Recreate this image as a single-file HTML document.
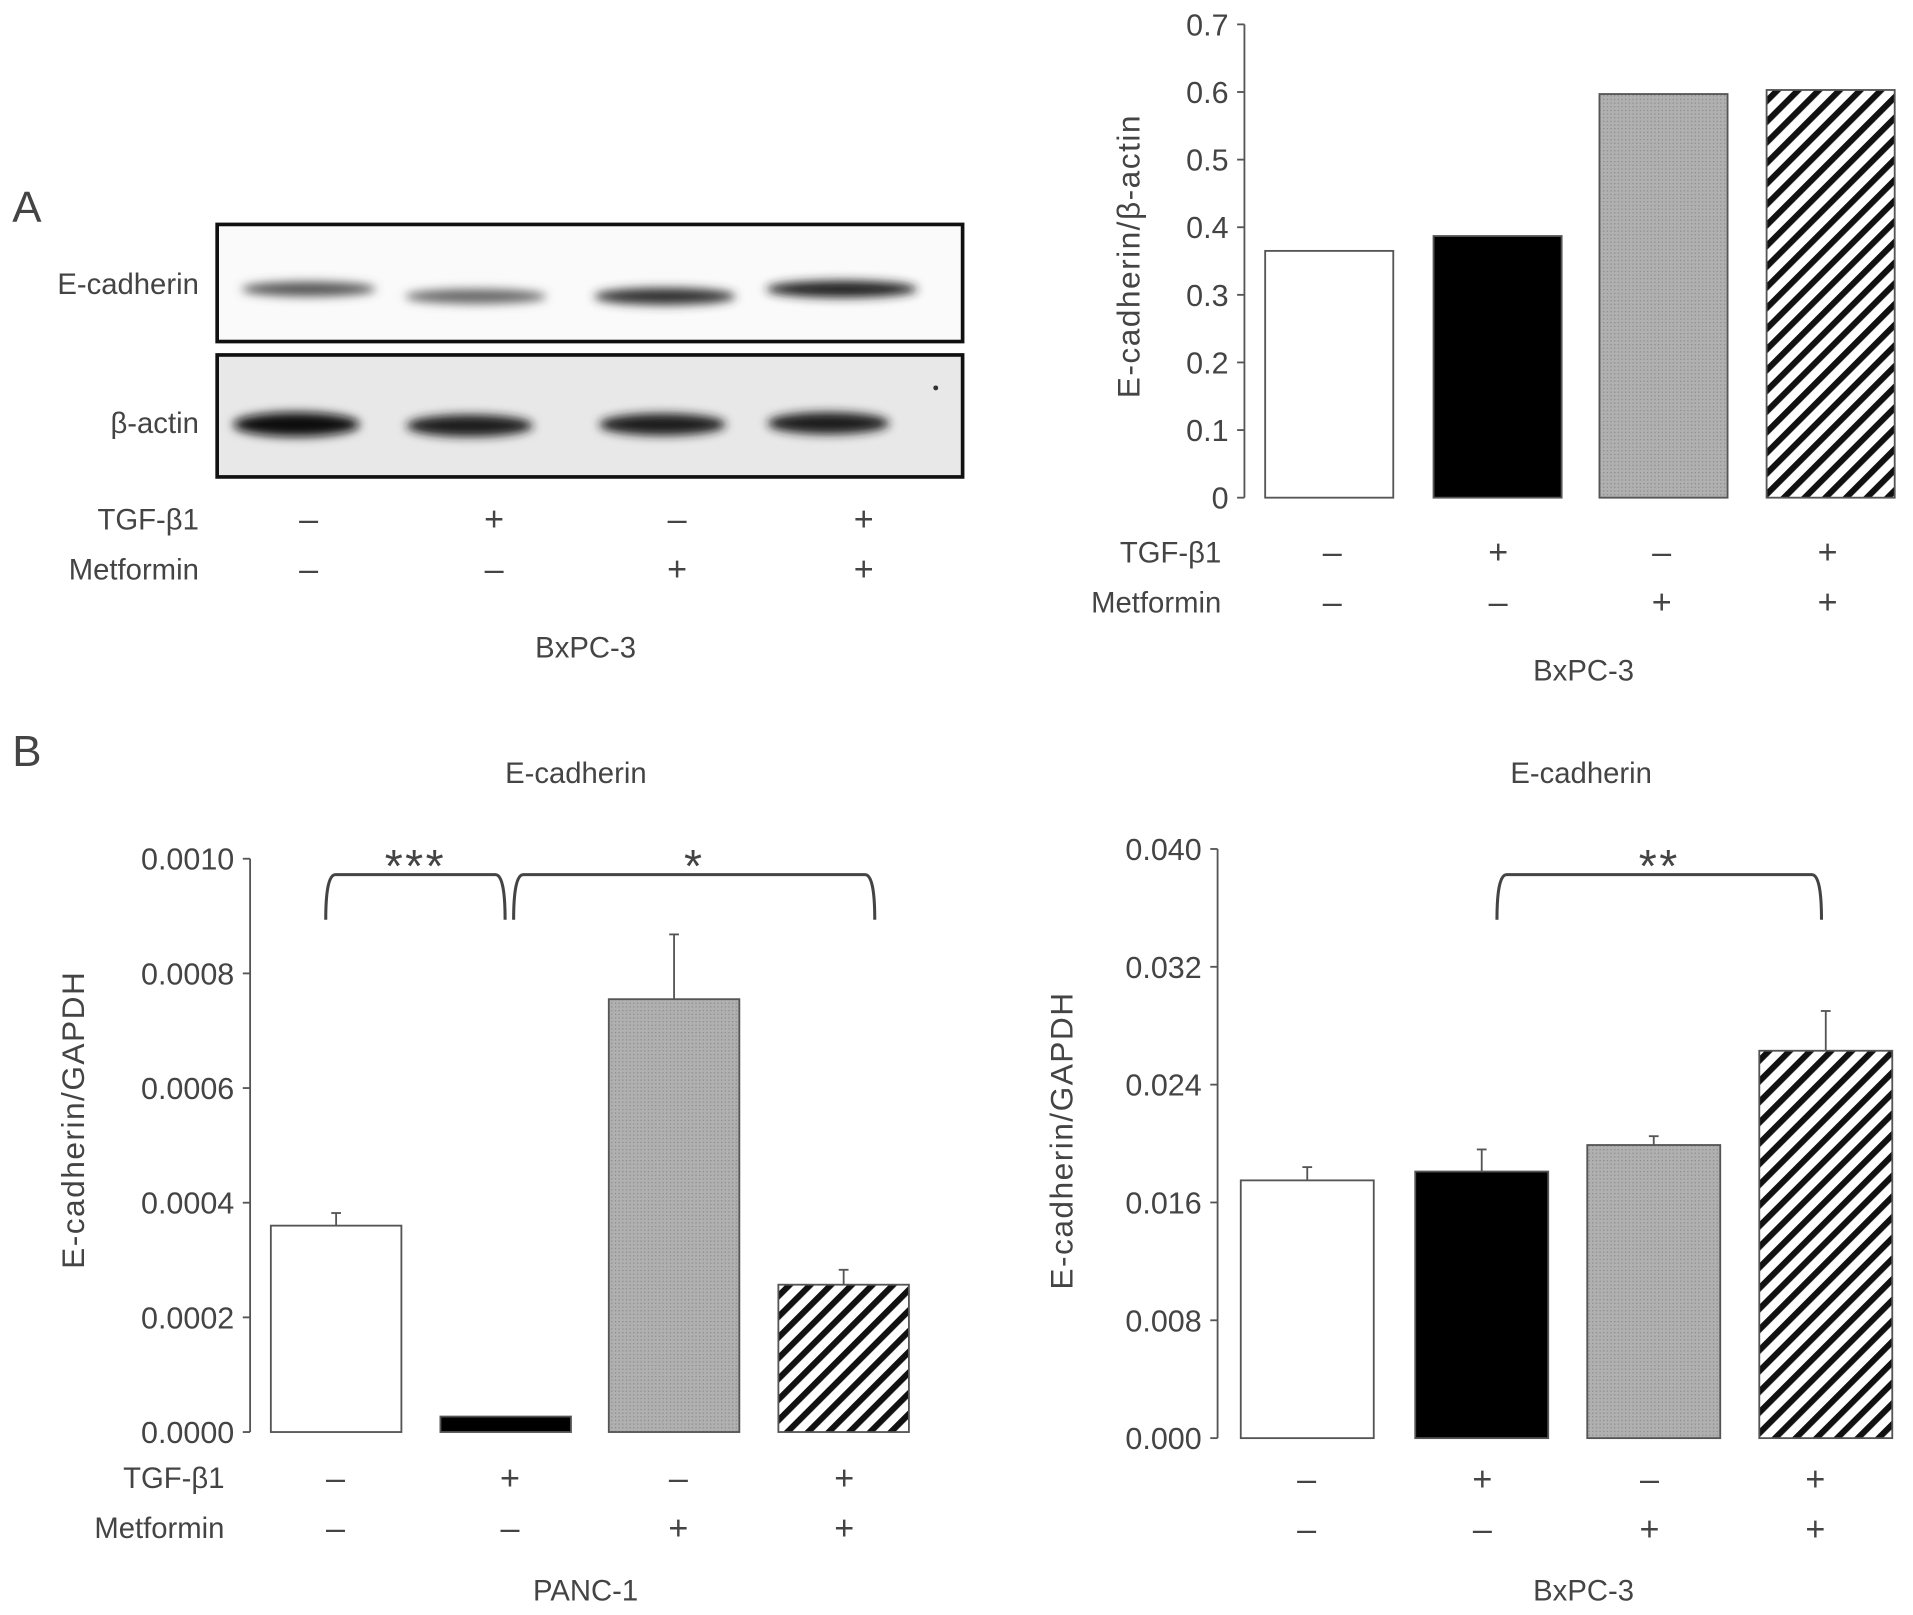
<!DOCTYPE html>
<html><head><meta charset="utf-8"><style>
html,body{margin:0;padding:0;background:#fff;}
svg{display:block;}
text{font-family:"Liberation Sans",sans-serif;fill:#444;}
</style></head><body>
<svg id="fig" width="1913" height="1615" viewBox="0 0 1568 1324" preserveAspectRatio="none" xmlns="http://www.w3.org/2000/svg">
<defs>
<pattern id="hatch" patternUnits="userSpaceOnUse" width="12" height="12" patternTransform="rotate(45)">
<rect width="12" height="12" fill="#fff"/><rect width="5" height="12" fill="#111"/></pattern>
<pattern id="dots" patternUnits="userSpaceOnUse" width="3" height="3">
<rect width="3" height="3" fill="#b0b0b0"/><rect width="1" height="1" fill="#8a8a8a"/></pattern>
<filter id="blur"><feGaussianBlur stdDeviation="4"/></filter>
</defs>
<text x="10" y="182" font-size="36">A</text>
<text x="10" y="628" font-size="36">B</text>
<g>
<rect x="178" y="184" width="611" height="96" fill="#fafafa" stroke="#111" stroke-width="3"/>
<rect x="178" y="291" width="611" height="100" fill="#e8e8e8" stroke="#111" stroke-width="3"/>
<g filter="url(#blur)">
<ellipse cx="253" cy="237" rx="55" ry="6" fill="#555"/>
<ellipse cx="390" cy="243" rx="58" ry="6" fill="#666"/>
<ellipse cx="545" cy="243" rx="58" ry="7" fill="#333"/>
<ellipse cx="690" cy="237" rx="62" ry="7" fill="#222"/>
<ellipse cx="243" cy="348" rx="52" ry="10" fill="#111"/>
<ellipse cx="385" cy="349" rx="52" ry="9" fill="#1a1a1a"/>
<ellipse cx="543" cy="348" rx="52" ry="9" fill="#1f1f1f"/>
<ellipse cx="679" cy="347" rx="50" ry="9" fill="#1a1a1a"/>
</g>
<circle cx="767" cy="318" r="2" fill="#333"/>
<text x="163" y="241" font-size="24" text-anchor="end">E-cadherin</text>
<text x="163" y="355" font-size="24" text-anchor="end">β-actin</text>
</g>
<g id="rows"></g>
<g id="charts"></g>
</svg>
<script>
// Chart A: E-cadherin/β-actin (BxPC-3, western blot quantification)
const aValues = [0.365, 0.387, 0.597, 0.603];
const aTicks = ["0","0.1","0.2","0.3","0.4","0.5","0.6","0.7"];
// Chart B-left: PANC-1 E-cadherin/GAPDH
const pValues = [0.00036, 0.000027, 0.000755, 0.000257];
const pErrors = [0.000022, 0, 0.000113, 0.000026];
const pTicks = ["0.0000","0.0002","0.0004","0.0006","0.0008","0.0010"];
// Chart B-right: BxPC-3 E-cadherin/GAPDH
const bValues = [0.0175, 0.0181, 0.0199, 0.0263];
const bErrors = [0.0009, 0.0015, 0.0006, 0.0027];
const bTicks = ["0.000","0.008","0.016","0.024","0.032","0.040"];
const tgf = ["–","+","–","+"];
const met = ["–","–","+","+"];
const fills = ["#fff","#000","url(#dots)","url(#hatch)"];

const NS="http://www.w3.org/2000/svg";
function mk(tag,attrs,parent,txt){const e=document.createElementNS(NS,tag);for(const k in attrs)e.setAttribute(k,attrs[k]);if(txt!==undefined)e.textContent=txt;parent.appendChild(e);return e;}
const charts=document.getElementById('charts');
const rows=document.getElementById('rows');

function chart(cfg){
  const g=mk('g',{},charts);
  
  
  const max=cfg.max;
  const y=v=>cfg.y0-(v/max)*(cfg.y0-cfg.y1);
  mk('line',{x1:cfg.ax,y1:cfg.y1,x2:cfg.ax,y2:cfg.y0,stroke:'#555','stroke-width':1.5},g);
  cfg.ticks.forEach((t,i)=>{
    const v=max*i/(cfg.ticks.length-1);
    mk('line',{x1:cfg.ax-6,y1:y(v),x2:cfg.ax,y2:y(v),stroke:'#555','stroke-width':1.5},g);
    const tx=mk('text',{x:cfg.ax-13,y:y(v)+9,'font-size':25,'text-anchor':'end'},g,t);
    
    
  });
  const yl=mk('text',{x:0,y:0,'font-size':26,'letter-spacing':'1.2','text-anchor':'middle',transform:`translate(${cfg.ylx},${cfg.yly}) rotate(-90)`},g,cfg.ylabel);
  
  
  cfg.values.forEach((v,i)=>{
    const x=cfg.bx[i];
    if(cfg.errors&&cfg.errors[i]>0){
      const cx=x+cfg.bw/2;
      mk('line',{x1:cx,y1:y(v),x2:cx,y2:y(v+cfg.errors[i]),stroke:'#555','stroke-width':1.5},g);
      mk('line',{x1:cx-4,y1:y(v+cfg.errors[i]),x2:cx+4,y2:y(v+cfg.errors[i]),stroke:'#555','stroke-width':1.5},g);
    }
    const r=mk('rect',{x:x,y:y(v),width:cfg.bw,height:cfg.y0-y(v),fill:fills[i],stroke:'#555','stroke-width':1.5},g);
    
    
  });
  const rg=mk('g',{},rows);
  
  
  if(cfg.rowLabels){
    const l1=mk('text',{x:cfg.rlx,y:cfg.r1+9,'font-size':24,'text-anchor':'end'},rg,'TGF-β1');
    
    
    const l2=mk('text',{x:cfg.rlx,y:cfg.r2+9,'font-size':24,'text-anchor':'end'},rg,'Metformin');
    
    
  }
  cfg.lanes.forEach((lx,i)=>{
    mk('text',{x:lx,y:cfg.r1+10,'font-size':28,'text-anchor':'middle'},rg,tgf[i]);
    mk('text',{x:lx,y:cfg.r2+10,'font-size':28,'text-anchor':'middle'},rg,met[i]);
  });
  const cl=mk('text',{x:cfg.clx,y:cfg.cly,'font-size':24,'text-anchor':'middle'},rg,cfg.cell);
  
  
  if(cfg.title){
    const t=mk('text',{x:cfg.title[0],y:cfg.title[1],'font-size':24,'text-anchor':'middle'},g,'E-cadherin');
    
    
  }
  (cfg.brackets||[]).forEach(b=>{
    mk('path',{d:`M${b[0]} ${b[3]} Q${b[0]} ${b[2]} ${b[0]+8} ${b[2]} L${b[1]-8} ${b[2]} Q${b[1]} ${b[2]} ${b[1]} ${b[3]}`,fill:'none',stroke:'#444','stroke-width':2.5},g);
    const s=mk('text',{x:(b[0]+b[1])/2,y:b[2]+6,'font-size':38,'letter-spacing':'2','text-anchor':'middle'},g,b[4]);
    
    
  });
}
(function(){
  const lanes=[253,405,555,708];
  const rg=mk('g',{},rows);
  
  
  mk('text',{x:163,y:434,'font-size':24,'text-anchor':'end'},rg,'TGF-β1');
  mk('text',{x:163,y:475,'font-size':24,'text-anchor':'end'},rg,'Metformin');
  lanes.forEach((lx,i)=>{mk('text',{x:lx,y:435,'font-size':28,'text-anchor':'middle'},rg,tgf[i]);mk('text',{x:lx,y:476,'font-size':28,'text-anchor':'middle'},rg,met[i]);});
  mk('text',{x:480,y:539,'font-size':24,'text-anchor':'middle'},rg,'BxPC-3');
})();
chart({name:'chart-a-bxpc3',values:aValues,ticks:aTicks,max:0.7,ax:1020,y0:408,y1:20,bx:[1037,1175,1311,1448],bw:105,
  ylabel:'E-cadherin/β-actin',ylx:934,yly:210,rowLabels:true,rlx:1001,r1:452,r2:493,lanes:[1092,1228,1362,1498],clx:1298,cly:558,cell:'BxPC-3'});
chart({name:'chart-b-panc1',values:pValues,errors:pErrors,ticks:pTicks,max:0.001,ax:205,y0:1174,y1:704,bx:[222,361,499,638],bw:107,
  ylabel:'E-cadherin/GAPDH',ylx:69,yly:918,rowLabels:true,rlx:184,r1:1211,r2:1252,lanes:[275,418,556,692],clx:480,cly:1312,cell:'PANC-1',
  title:[472,642],brackets:[[267,414,717,754,'***'],[421,717,717,754,'*']]});
chart({name:'chart-b-bxpc3',values:bValues,errors:bErrors,ticks:bTicks,max:0.04,ax:998,y0:1179,y1:696,bx:[1017,1160,1301,1442],bw:109,
  ylabel:'E-cadherin/GAPDH',ylx:879,yly:935,rowLabels:false,r1:1212,r2:1253,lanes:[1071,1215,1352,1488],clx:1298,cly:1312,cell:'BxPC-3',
  title:[1296,642],brackets:[[1227,1493,717,754,'**']]});
</script>
</body></html>
